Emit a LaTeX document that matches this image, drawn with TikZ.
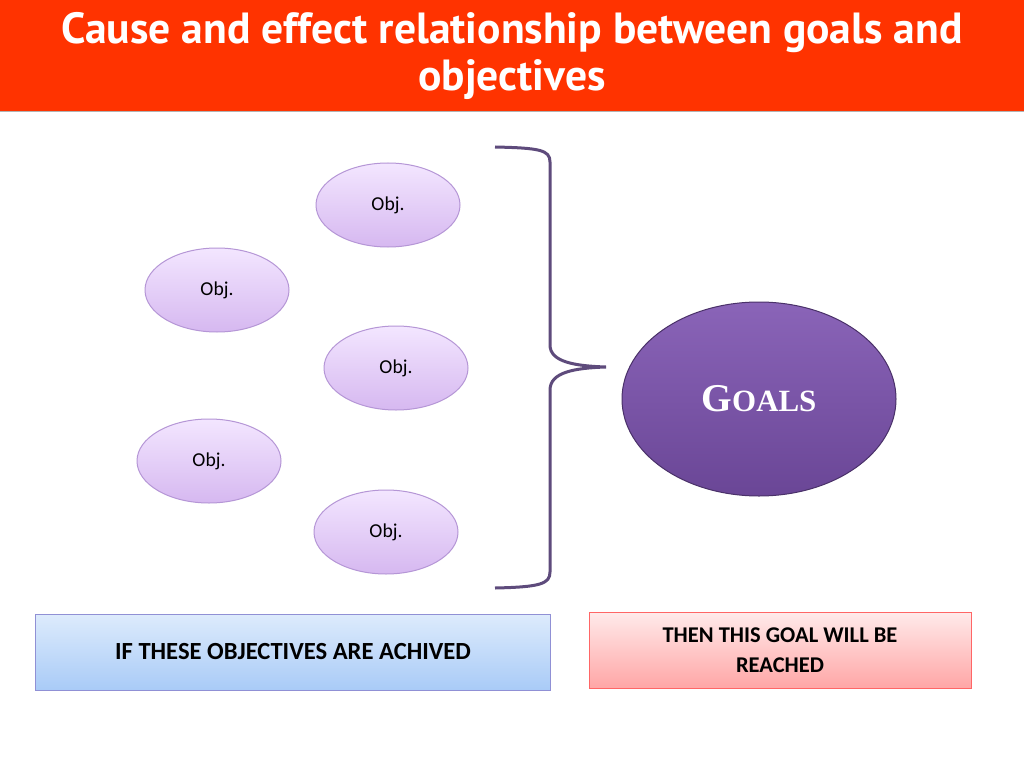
\documentclass[tikz,border=0pt]{standalone}
\usepackage{fontspec}
\setmainfont{Carlito}
\newfontfamily\titlefont{PT Sans}
\newfontfamily\goalfont{Liberation Serif}
\usetikzlibrary{shapes.geometric}
\definecolor{titlered}{HTML}{FF3300}
\definecolor{objtop}{HTML}{F3E6FF}
\definecolor{objbot}{HTML}{D6B8F0}
\definecolor{objline}{HTML}{B596D6}
\definecolor{goaltop}{HTML}{8A64B8}
\definecolor{goalbot}{HTML}{6A4696}
\definecolor{bracecol}{HTML}{5E4B7C}
\definecolor{bluetop}{HTML}{DDEBFC}
\definecolor{bluebot}{HTML}{A9CBF7}
\tikzset{
  objnode/.style={ellipse,draw=objline,top color=objtop,bottom color=objbot,
    minimum width=144\pgflinewidth,minimum height=84\pgflinewidth,
    inner sep=0pt,font=\fontsize{14}{16}\selectfont},
  bluebox/.style={draw=blue!45!gray!60,top color=bluetop,bottom color=bluebot,
    minimum width=515*0.025cm,minimum height=76*0.025cm,align=center,
    font=\bfseries\fontsize{17.5}{21}\selectfont},
  pinkbox/.style={draw=red!60,top color=red!8,bottom color=red!35,
    minimum width=382*0.025cm,minimum height=76*0.025cm,align=center,
    font=\bfseries\fontsize{16}{21}\selectfont}
}
\begin{document}
\begin{tikzpicture}[x=0.025cm,y=-0.025cm,line width=0.025cm]
\useasboundingbox (0,0) rectangle (1024,768);
\fill[white] (0,0) rectangle (1024,768);
% title bar
\fill[titlered] (0,0) rectangle (1024,112);
\draw[gray!60] (0,112) -- (1024,112);
\node[text=white,align=center,font=\titlefont\bfseries\fontsize{31}{34}\selectfont] (title) at (512,56)
  {Cause and effect relationship between goals and\\objectives};
% objectives
\node[objnode] (o1) at (388,205) {Obj.};
\node[objnode] (o2) at (217,290) {Obj.};
\node[objnode] (o3) at (396,368) {Obj.};
\node[objnode] (o4) at (209,461) {Obj.};
\node[objnode] (o5) at (386,532) {Obj.};
% brace
\draw[bracecol,line width=3*0.025cm] (495,147) .. controls (540,148) and (550,150) .. (550,162)
  -- (550,345) .. controls (550,362) and (575,366) .. (606,367)
  .. controls (575,368) and (550,372) .. (550,390)
  -- (550,572) .. controls (550,584) and (540,587) .. (495,588);
% goal
\node[ellipse,draw=goalbot!70!black,top color=goaltop,bottom color=goalbot,
  minimum width=274*0.025cm,minimum height=194*0.025cm,text=white,
  font=\goalfont\bfseries\fontsize{28}{32}\selectfont] (goal) at (759,399)
  {G{\fontsize{22}{24}\selectfont OALS}};
% boxes
\node[bluebox] (ifbox) at (293,652) {IF THESE OBJECTIVES ARE ACHIVED};
\node[pinkbox] (thenbox) at (780,650) {THEN THIS GOAL WILL BE\\REACHED};
\end{tikzpicture}
\end{document}
